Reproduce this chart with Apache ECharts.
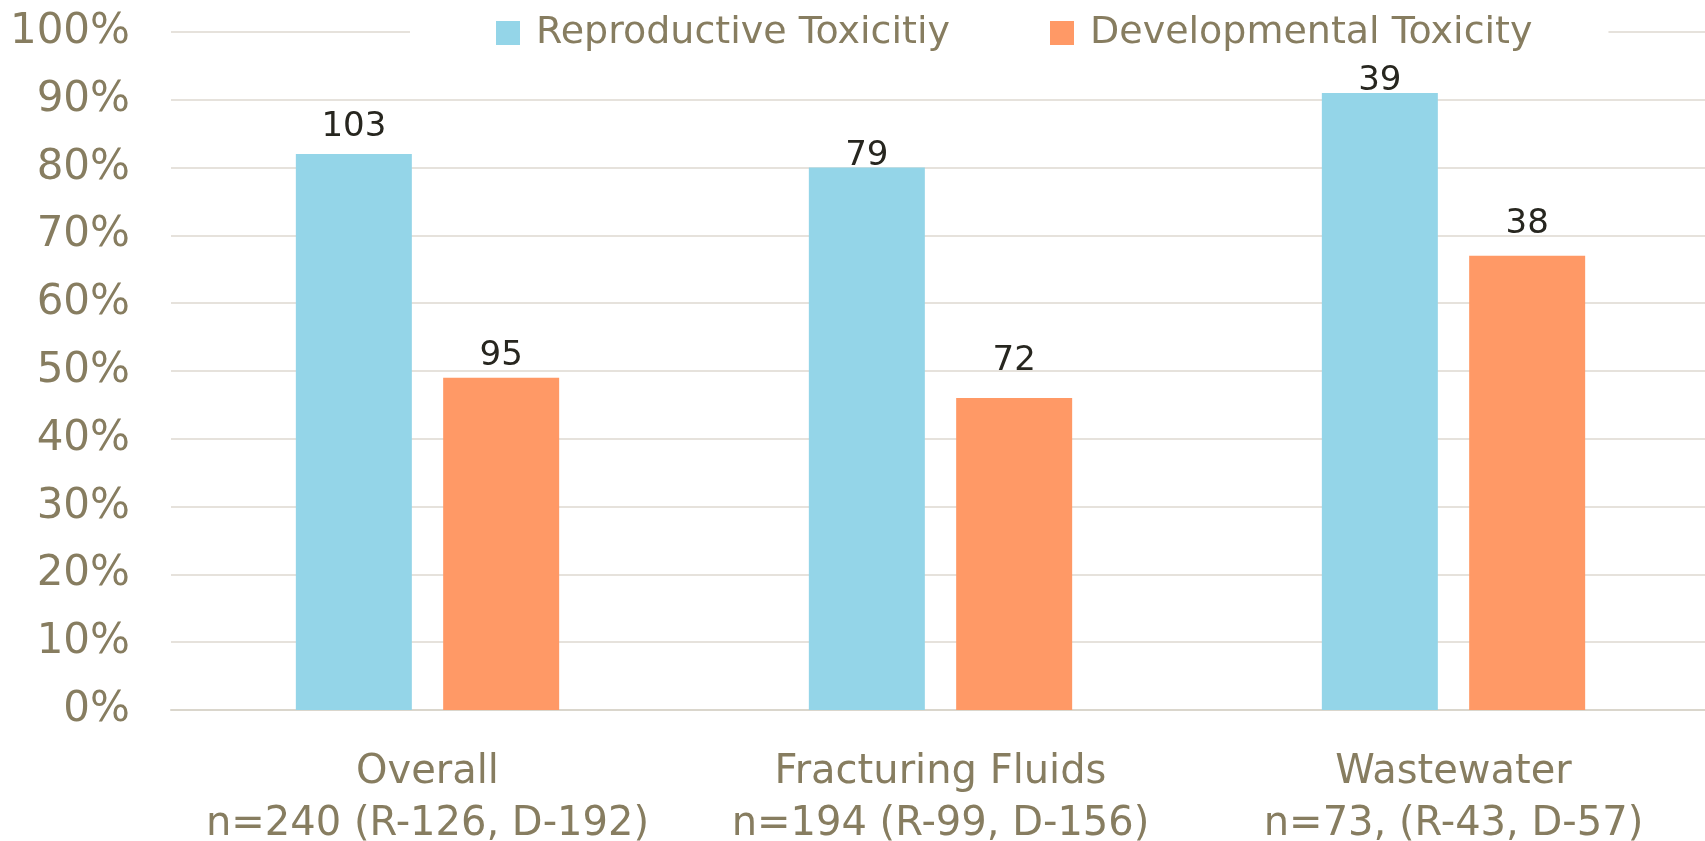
<!DOCTYPE html>
<html>
<head>
<meta charset="utf-8">
<script src="https://cdn.jsdelivr.net/npm/echarts@6/dist/echarts.min.js"></script>
<style>
  html, body { margin: 0; padding: 0; background: #fff; }
  #chart { width: 1705px; height: 841px; }
</style>
</head>
<body>
<div id="chart"></div>
<script>
// categories (two-line labels)
const categories = [
    'Overall\nn=240 (R-126, D-192)',
    'Fracturing Fluids\nn=194 (R-99, D-156)',
    'Wastewater\nn=73, (R-43, D-57)'
];
const seriesNames = ['Reproductive Toxicitiy', 'Developmental Toxicity'];

// percentages (bar heights)
const reproPct = [82, 80, 91];
const devPct = [49, 46, 67];

// counts shown as bar labels
const reproCount = [103, 79, 39];
const devCount = [95, 72, 38];

// label lift above each bar (px), as placed in the original
const reproLabelGap = [10, -6, -5];
const devLabelGap = [5, 20, 15];

const yTicks = [0, 10, 20, 30, 40, 50, 60, 70, 80, 90, 100];

const textColor = '#877D60';
const fontFamily = 'DejaVu Sans';

const chart = echarts.init(document.getElementById('chart'));

function makeData(values, counts, gaps) {
    return values.map((v, i) => ({
        value: v,
        label: { formatter: String(counts[i]), distance: gaps[i] }
    }));
}

chart.setOption({
    animation: false,
    legend: {
        data: seriesNames,
        left: 410,
        top: 10,
        padding: [4, 76, 4, 86],
        backgroundColor: '#fff',
        itemWidth: 24,
        itemHeight: 24,
        itemGap: 100,
        icon: 'rect',
        textStyle: {
            color: textColor,
            fontFamily: fontFamily,
            fontSize: 38,
            padding: [0, 0, 0, 11]
        }
    },
    grid: {
        left: 171,
        right: -5,
        top: 32,
        bottom: 131,
        containLabel: false,
        outerBoundsMode: 'none'
    },
    xAxis: {
        type: 'category',
        data: categories,
        axisLine: { lineStyle: { color: '#DAD6CC', width: 2 } },
        axisTick: { show: false },
        axisLabel: {
            interval: 0,
            color: textColor,
            fontFamily: fontFamily,
            fontSize: 40,
            lineHeight: 52,
            margin: 37
        }
    },
    yAxis: {
        type: 'value',
        min: yTicks[0],
        max: yTicks[yTicks.length - 1],
        interval: 10,
        axisLine: { show: false },
        axisTick: { show: false },
        axisLabel: {
            formatter: '{value}%',
            color: textColor,
            fontFamily: fontFamily,
            fontSize: 42,
            margin: 41,
            padding: [6, 0, 0, 0]
        },
        splitLine: { lineStyle: { color: '#E6E2DC', width: 2 } }
    },
    series: [
        {
            name: seriesNames[0],
            type: 'bar',
            barWidth: 116,
            barGap: '27%',
            data: makeData(reproPct, reproCount, reproLabelGap),
            itemStyle: { color: '#94D5E8' },
            label: {
                show: true,
                position: 'top',
                color: '#27261F',
                fontFamily: fontFamily,
                fontSize: 34
            }
        },
        {
            name: seriesNames[1],
            type: 'bar',
            barWidth: 116,
            data: makeData(devPct, devCount, devLabelGap),
            itemStyle: { color: '#FF9966' },
            label: {
                show: true,
                position: 'top',
                color: '#27261F',
                fontFamily: fontFamily,
                fontSize: 34
            }
        }
    ]
});
</script>
</body>
</html>
